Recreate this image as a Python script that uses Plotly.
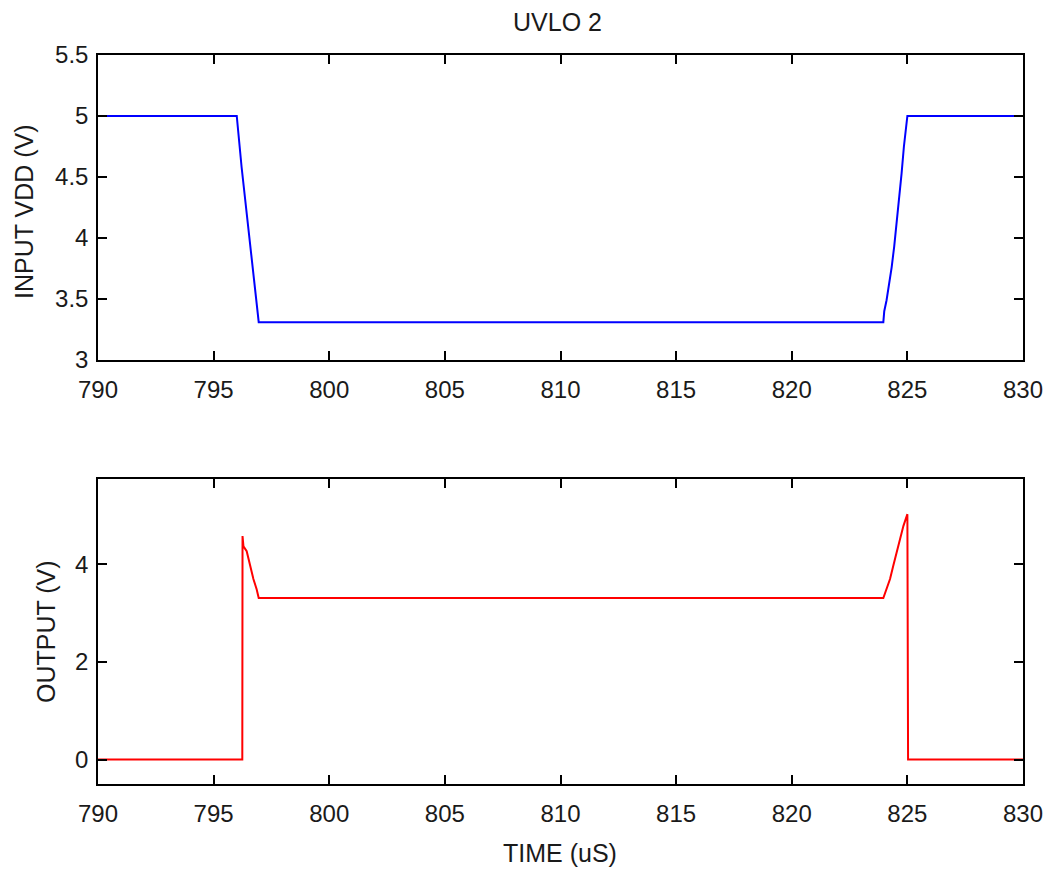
import plotly.graph_objects as go

# Input VDD (top)
t_in = [790, 796.0, 796.21, 796.43, 796.65, 796.83, 796.95, 823.96, 824.0, 824.1, 824.22, 824.32, 824.43, 824.54, 824.65, 824.75, 824.85, 824.94, 825.0, 830]
v_in = [5.0, 5.0, 4.58, 4.2, 3.85, 3.52, 3.31, 3.31, 3.4, 3.49, 3.63, 3.76, 3.93, 4.12, 4.31, 4.53, 4.75, 4.94, 5.0, 5.0]

# Output (bottom)
t_out = [790, 796.24, 796.25, 796.29, 796.43, 796.57, 796.72, 796.86, 796.95, 823.96, 824.1, 824.25, 824.39, 824.54, 824.68, 824.83, 825.0, 825.03, 830]
v_out = [0.0, 0.0, 4.58, 4.37, 4.27, 3.97, 3.70, 3.49, 3.31, 3.31, 3.49, 3.70, 3.97, 4.25, 4.52, 4.79, 5.03, 0.0, 0.0]

x_ticks = [790, 795, 800, 805, 810, 815, 820, 825, 830]
y1_ticks = [3, 3.5, 4, 4.5, 5, 5.5]
y1_labels = ["3", "3.5", "4", "4.5", "5", "5.5"]
y2_ticks = [0, 2, 4]

W, H = 1053, 871
FONT = "Liberation Sans, Arial, sans-serif"
fs = 24
fs_lab = 25

fig = go.Figure()
fig.add_trace(go.Scatter(x=t_in, y=v_in, mode="lines", line=dict(color="#0000ff", width=2),
                         xaxis="x", yaxis="y", showlegend=False))
fig.add_trace(go.Scatter(x=t_out, y=v_out, mode="lines", line=dict(color="#ff0000", width=2),
                         xaxis="x2", yaxis="y2", showlegend=False))

def px_x(p):
    return p / W

def px_y(p):
    return 1 - p / H

axcommon = dict(showgrid=False, zeroline=False, showline=True, linecolor="black", linewidth=1.5,
                mirror="allticks", ticks="inside", ticklen=9, tickwidth=1.5, tickcolor="black",
                automargin=False,
                tickfont=dict(family=FONT, size=fs, color="#1a1a1a"))
xax = dict(ticklabelstandoff=7, **axcommon)
yax = dict(ticklabelstandoff=3, **axcommon)

fig.update_layout(
    template="none",
    width=W, height=H,
    margin=dict(l=0, r=0, t=0, b=0, pad=0),
    paper_bgcolor="white", plot_bgcolor="white",
    font=dict(family=FONT, size=fs, color="#1a1a1a"),
    xaxis=dict(domain=[px_x(98), px_x(1023)], range=[790, 830], tickvals=x_ticks,
               anchor="y", **xax),
    yaxis=dict(domain=[px_y(360), px_y(55)], range=[3, 5.5], tickvals=y1_ticks, ticktext=y1_labels,
               anchor="x", **yax),
    xaxis2=dict(domain=[px_x(98), px_x(1023)], range=[790, 830], tickvals=x_ticks,
                anchor="y2", **xax),
    yaxis2=dict(domain=[px_y(784), px_y(479)], range=[-0.5, 5.75], tickvals=y2_ticks,
                anchor="x2", **yax),
    annotations=[
        dict(text="UVLO 2", x=px_x(557), y=px_y(22), xref="paper", yref="paper",
             showarrow=False, xanchor="center", yanchor="middle", font=dict(family=FONT, size=fs_lab)),
        dict(text="INPUT VDD (V)", x=px_x(24), y=px_y(212), xref="paper", yref="paper",
             showarrow=False, textangle=-90, xanchor="center", yanchor="middle", font=dict(family=FONT, size=fs_lab)),
        dict(text="OUTPUT (V)", x=px_x(46), y=px_y(632), xref="paper", yref="paper",
             showarrow=False, textangle=-90, xanchor="center", yanchor="middle", font=dict(family=FONT, size=fs_lab)),
        dict(text="TIME (uS)", x=px_x(560), y=px_y(853), xref="paper", yref="paper",
             showarrow=False, xanchor="center", yanchor="middle", font=dict(family=FONT, size=fs_lab)),
    ],
)

fig.write_html("out.html")
